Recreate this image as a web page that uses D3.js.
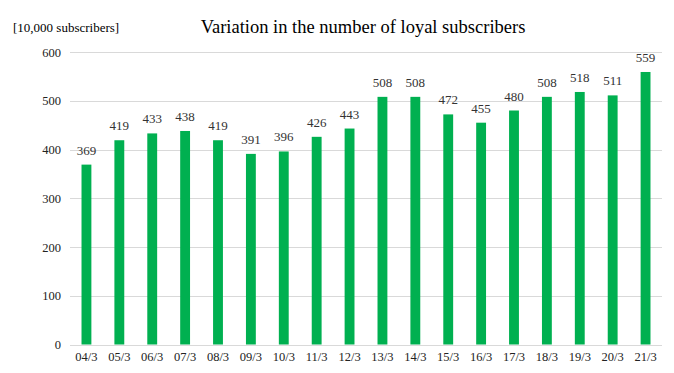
<!DOCTYPE html>
<html>
<head>
<meta charset="utf-8">
<script src="https://cdn.jsdelivr.net/npm/d3@7"></script>
<style>
  body { margin: 0; background: #fff; }
</style>
</head>
<body>
<div id="chart"></div>
<script>
'use strict';

var dates = ['04/3', '05/3', '06/3', '07/3', '08/3', '09/3', '10/3', '11/3', '12/3',
    '13/3', '14/3', '15/3', '16/3', '17/3', '18/3', '19/3', '20/3', '21/3'];
var subscribers = [369, 419, 433, 438, 419, 391, 396, 426, 443,
    508, 508, 472, 455, 480, 508, 518, 511, 559];
var yTicks = [0, 100, 200, 300, 400, 500, 600];

var serif = 'Liberation Serif, Times New Roman, serif';
var width = 674, height = 373;
var margin = { top: 52, right: 12, bottom: 28, left: 70 };

var svg = d3.select('#chart').append('svg')
    .attr('width', width)
    .attr('height', height)
    .attr('font-family', serif);

var x = d3.scaleBand()
    .domain(dates)
    .range([margin.left, width - margin.right])
    .paddingInner(0.7)
    .paddingOuter(0.35);

var y = d3.scaleLinear()
    .domain([0, 600])
    .range([height - margin.bottom - 0.5, margin.top]);

//gridlines
svg.append('g')
    .selectAll('line')
    .data(yTicks)
    .join('line')
    .attr('x1', margin.left)
    .attr('x2', width - margin.right)
    .attr('y1', function (d) { return Math.round(y(d)) + 0.5; })
    .attr('y2', function (d) { return Math.round(y(d)) + 0.5; })
    .attr('stroke', '#d9d9d9')
    .attr('stroke-width', 1);

//y axis labels (no domain line)
var yAxis = svg.append('g')
    .attr('transform', 'translate(' + (margin.left - 9) + ',0)')
    .call(d3.axisLeft(y).tickValues(yTicks).tickSize(0).tickPadding(0))
    .attr('font-family', serif)
    .attr('font-size', 12.5);
yAxis.select('.domain').remove();
yAxis.selectAll('text').attr('fill', '#222');

//bars
svg.append('g')
    .selectAll('rect')
    .data(subscribers)
    .join('rect')
    .attr('x', function (d, i) { return x(dates[i]); })
    .attr('y', function (d) { return y(d); })
    .attr('width', x.bandwidth())
    .attr('height', function (d) { return y(0) - y(d); })
    .attr('fill', '#00b050');

//value labels
svg.append('g')
    .selectAll('text')
    .data(subscribers)
    .join('text')
    .attr('x', function (d, i) { return x(dates[i]) + x.bandwidth() / 2; })
    .attr('y', function (d) { return y(d) - 10; })
    .attr('text-anchor', 'middle')
    .attr('font-size', 13)
    .attr('fill', '#333')
    .text(function (d) { return d; });

//x axis labels
var xAxis = svg.append('g')
    .attr('transform', 'translate(0,' + (height - margin.bottom) + ')')
    .call(d3.axisBottom(x).tickSize(0).tickPadding(7))
    .attr('font-family', serif)
    .attr('font-size', 12.5);
xAxis.select('.domain').remove();
xAxis.selectAll('text').attr('fill', '#222');

//title and unit
svg.append('text')
    .text('Variation in the number of loyal subscribers')
    .attr('x', 363)
    .attr('y', 33)
    .attr('text-anchor', 'middle')
    .attr('font-size', 18.5)
    .attr('fill', '#000');
svg.append('text')
    .text('[10,000 subscribers]')
    .attr('x', 13)
    .attr('y', 32)
    .attr('font-size', 13)
    .attr('fill', '#000');
</script>
</body>
</html>
